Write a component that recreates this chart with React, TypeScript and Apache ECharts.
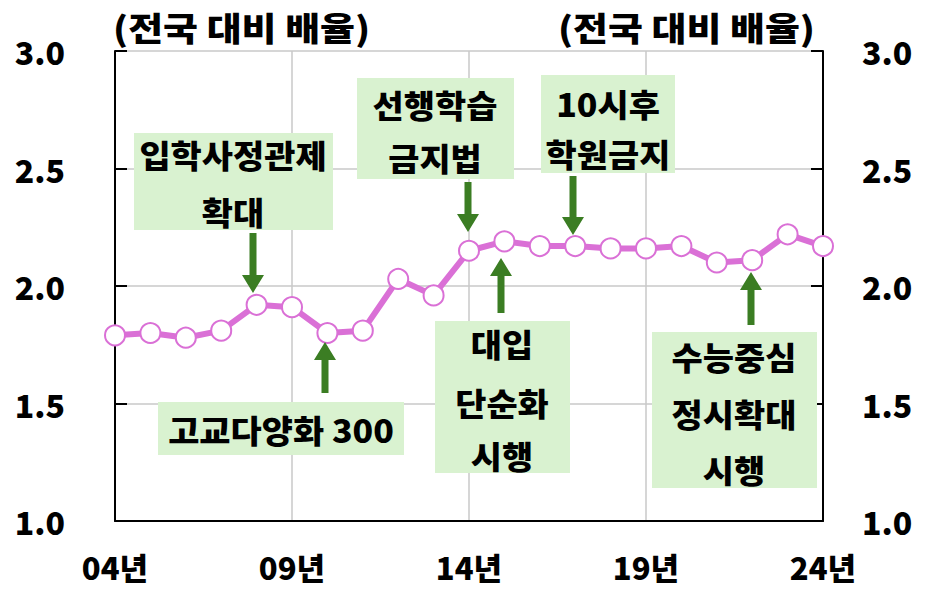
import React, { useEffect, useRef } from "react";
import * as echarts from "echarts";

// ---- data ----
const years = ["04","05","06","07","08","09","10","11","12","13","14","15","16","17","18","19","20","21","22","23","24"];
const ratio = [1.79,1.80,1.78,1.81,1.92,1.91,1.80,1.81,2.03,1.96,2.15,2.19,2.17,2.17,2.16,2.16,2.17,2.10,2.11,2.22,2.17];
const yMin = 1.0;
const yMax = 3.0;
const yStep = 0.5;
const axisTitle = "(전국 대비 배율)";
const yearSuffix = "년";

// annotation texts
const noteTexts: string[][] = [
  ["입학사정관제", "확대"],
  ["고교다양화 300"],
  ["선행학습", "금지법"],
  ["10시후", "학원금지"],
  ["대입", "단순화", "시행"],
  ["수능중심", "정시확대", "시행"],
];

// ---- layout (pixels) ----
const boxLayout = [
  { x0: 134, y0: 133, x1: 333, y1: 230, cx: 233, ly: [154, 211] },
  { x0: 158, y0: 402, x1: 404, y1: 455, cx: 281, ly: [429] },
  { x0: 357, y0: 78, x1: 514, y1: 179, cx: 435, ly: [104, 157] },
  { x0: 541, y0: 75, x1: 675, y1: 173, cx: 608, ly: [103, 153] },
  { x0: 435, y0: 321, x1: 570, y1: 473, cx: 502, ly: [343, 402, 455] },
  { x0: 652, y0: 332, x1: 817, y1: 488, cx: 734, ly: [356, 413, 469] },
];
const arrowLayout = [
  { x: 253, from: 233, to: 293 },
  { x: 325, from: 393, to: 342 },
  { x: 468, from: 182, to: 232 },
  { x: 573, from: 176, to: 235 },
  { x: 501, from: 313, to: 258 },
  { x: 751, from: 325, to: 272 },
];

const FONT = '"Noto Sans CJK KR", "Noto Sans", sans-serif';
const WEIGHT = 900;
const GREEN_BOX = "#D9F2D0";
const ARROW = "#3B7D23";
const PINK = "#DA70D6";

function arrowPoints(x: number, from: number, to: number) {
  const dir = to > from ? 1 : -1;
  const headLen = 18;
  const sw = 3.5;
  const hw = 11;
  const neck = to - dir * headLen;
  return [
    [x - sw, from],
    [x + sw, from],
    [x + sw, neck],
    [x + hw, neck],
    [x, to],
    [x - hw, neck],
    [x - sw, neck],
  ];
}

export default function App() {
  const ref = useRef<HTMLDivElement>(null);
  useEffect(() => {
    document.body.style.margin = "0";
    const chart = echarts.init(ref.current!, null, { renderer: "svg" });

    const graphics: any[] = [];
    boxLayout.forEach((b, i) => {
      graphics.push({
        type: "rect",
        shape: { x: b.x0, y: b.y0, width: b.x1 - b.x0, height: b.y1 - b.y0 },
        style: { fill: GREEN_BOX },
        z: 10,
      });
      noteTexts[i].forEach((t, j) => {
        graphics.push({
          type: "text",
          x: b.cx,
          y: b.ly[j],
          scaleX: 1.06,
          style: {
            text: t,
            fill: "#000",
            fontSize: 32,
            fontWeight: WEIGHT,
            fontFamily: FONT,
            align: "center",
            verticalAlign: "middle",
          },
          z: 11,
        });
      });
    });
    arrowLayout.forEach((a) => {
      graphics.push({
        type: "polygon",
        shape: { points: arrowPoints(a.x, a.from, a.to) },
        style: { fill: ARROW },
        z: 12,
      });
    });
    graphics.push({
      type: "text",
      x: 113,
      y: 27,
      scaleX: 1.15,
      style: {
        text: axisTitle,
        fill: "#000",
        fontSize: 33,
        fontWeight: WEIGHT,
        fontFamily: FONT,
        align: "left",
        verticalAlign: "middle",
      },
    });
    graphics.push({
      type: "text",
      x: 815,
      y: 27,
      scaleX: 1.15,
      style: {
        text: axisTitle,
        fill: "#000",
        fontSize: 33,
        fontWeight: WEIGHT,
        fontFamily: FONT,
        align: "right",
        verticalAlign: "middle",
      },
    });

    const yAxisBase = {
      type: "value",
      min: yMin,
      max: yMax,
      interval: yStep,
      axisLine: { show: true, lineStyle: { color: "#000", width: 2 } },
      axisTick: { show: true, inside: true, length: 12, lineStyle: { color: "#000", width: 2 } },
    };

    chart.setOption({
      animation: false,
      backgroundColor: "#fff",
      grid: { left: 115, right: 110, top: 51, bottom: 68, containLabel: false },
      xAxis: {
        type: "category",
        data: years,
        boundaryGap: false,
        axisLine: { show: true, lineStyle: { color: "#000", width: 2 } },
        axisTick: { show: false },
        axisLabel: {
          interval: 4,
          formatter: (v: string) => v + yearSuffix,
          fontSize: 31,
          lineHeight: 30,
          fontWeight: WEIGHT,
          fontFamily: FONT,
          color: "#000",
          margin: 30,
        },
        splitLine: { show: true, interval: 4, lineStyle: { color: "#C8C8C8", width: 1.5 } },
      },
      yAxis: [
        {
          ...yAxisBase,
          position: "left",
          axisLabel: {
            formatter: (v: number) => v.toFixed(1),
            fontSize: 32,
            fontWeight: WEIGHT,
            fontFamily: FONT,
            color: "#000",
            margin: 50,
          },
          splitLine: { show: true, lineStyle: { color: "#C8C8C8", width: 1.5 } },
        },
        {
          ...yAxisBase,
          position: "right",
          axisLabel: {
            formatter: (v: number) => v.toFixed(1),
            fontSize: 32,
            fontWeight: WEIGHT,
            fontFamily: FONT,
            color: "#000",
            margin: 39,
          },
          splitLine: { show: false },
        },
      ],
      series: [
        {
          type: "line",
          data: ratio,
          yAxisIndex: 0,
          symbol: "circle",
          symbolSize: 20,
          lineStyle: { color: PINK, width: 6 },
          itemStyle: { color: "#fff", borderColor: PINK, borderWidth: 2 },
          z: 5,
        },
      ],
      graphic: graphics,
    });
    return () => chart.dispose();
  }, []);
  return (
    <div
      ref={ref}
      style={{ position: "fixed", left: 0, top: 0, width: 933, height: 589, background: "#fff" }}
    />
  );
}
